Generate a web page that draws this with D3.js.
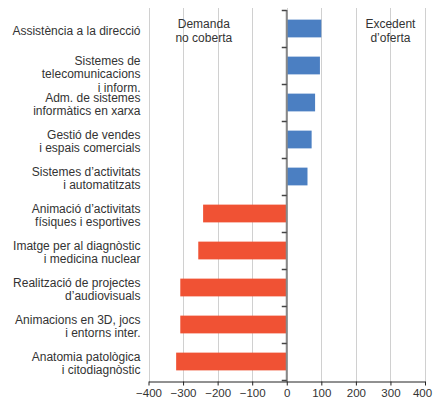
<!DOCTYPE html>
<html><head><meta charset="utf-8">
<script src="https://cdn.jsdelivr.net/npm/d3@7"></script>
<style>body{margin:0;background:#fff}svg{display:block}text{font-family:"Liberation Sans",Arial,Helvetica,sans-serif}</style>
</head><body>
<script>
const categories = [
  ["Assistència a la direcció"],
  ["Sistemes de ", "telecomunicacions", "i inform."],
  ["Adm. de sistemes ", "informàtics en xarxa"],
  ["Gestió de vendes", "i espais comercials"],
  ["Sistemes d’activitats", "i automatitzats"],
  ["Animació d’activitats", "físiques i esportives"],
  ["Imatge per al diagnòstic", "i medicina nuclear"],
  ["Realització de projectes", "d’audiovisuals"],
  ["Animacions en 3D, jocs", "i entorns inter."],
  ["Anatomia patològica", "i citodiagnòstic"]
];
const values = [100, 96, 82, 72, 60, -242, -256, -308, -308, -320];
const xTicks = [-400, -300, -200, -100, 0, 100, 200, 300, 400];
const annotations = [
  {x: -240, lines: ["Demanda", "no coberta"]},
  {x: 300, lines: ["Excedent", "d’oferta"]}
];

const W = 433, H = 401;
const svg = d3.select("body").append("svg").attr("width", W).attr("height", H);
const x = d3.scaleLinear().domain([-400, 400]).range([148.5, 425]);
const ids = categories.map((d, i) => i);
const y = d3.scaleBand().domain(ids).range([10, 380]).paddingInner(0.52).paddingOuter(0.26);
const gridTop = 8, gridBottom = 381.5;
const fs = 12;

// grid
svg.append("g").selectAll("line").data(xTicks).join("line")
  .attr("x1", d => Math.round(x(d)) + 0.5).attr("x2", d => Math.round(x(d)) + 0.5)
  .attr("y1", gridTop).attr("y2", gridBottom)
  .attr("stroke", "#d0d0d0").attr("stroke-width", 1);

// annotations
annotations.forEach(a => {
  a.lines.forEach((l, i) => svg.append("text")
    .attr("x", x(a.x)).attr("y", 27.5 + i * 14).attr("text-anchor", "middle")
    .attr("font-size", fs).attr("fill", "#333").text(l));
});

// bars
svg.append("g").selectAll("rect").data(values).join("rect")
  .attr("x", d => x(Math.min(0, d))).attr("width", d => Math.abs(x(d) - x(0)))
  .attr("y", (d, i) => y(i)).attr("height", y.bandwidth())
  .attr("fill", d => d >= 0 ? "#4b7fc2" : "#f05234");

// category labels
const lh = 13.2;
categories.forEach((lines, i) => {
  const c = y(i) + y.bandwidth() / 2 + 2;
  const n = lines.length;
  const start = n === 1 ? c : c - lh / 2;
  lines.forEach((l, k) => svg.append("text")
    .attr("x", 140.5).attr("y", start + k * lh + 4.3)
    .attr("text-anchor", "end").attr("font-size", fs).attr("fill", "#333")
    .text(l.trim()));
});

// zero axis
const yAxis = d3.axisLeft(d3.scaleLinear().domain([0, categories.length]).range([10, 380]))
  .ticks(categories.length).tickSize(5).tickFormat("");
const za = svg.append("g").attr("transform", `translate(${x(0)},0)`).call(yAxis);
za.select(".domain").attr("stroke", "#888").attr("stroke-width", 2).attr("d", "M0,10V381.5");
za.selectAll(".tick line").attr("stroke", "#444").attr("stroke-width", 1.5);

// bottom axis
const xa = svg.append("g").attr("transform", `translate(0,${gridBottom})`)
  .call(d3.axisBottom(x).tickValues(xTicks).tickSize(4).tickSizeOuter(0).tickPadding(3)
    .tickFormat(d => d < 0 ? "−" + Math.abs(d) : String(d)));
xa.select(".domain").attr("stroke", "#222");
xa.selectAll(".tick line").attr("stroke", "#222");
xa.selectAll(".tick text").attr("font-size", 11.5).attr("fill", "#333")
  .attr("font-family", '"Liberation Sans",Arial,sans-serif')
  .attr("dx", d => d === 400 ? -3 : 0);
</script>
</body></html>
